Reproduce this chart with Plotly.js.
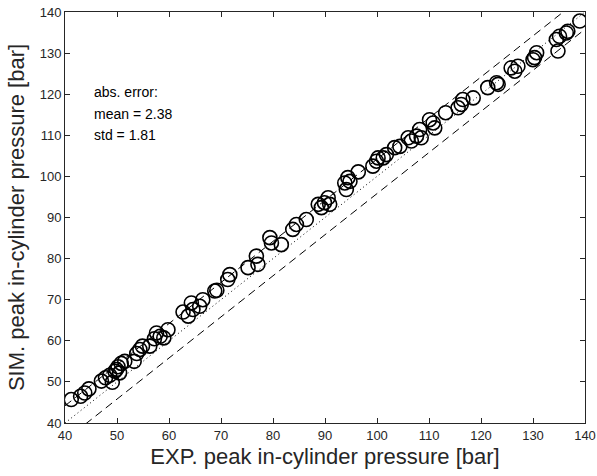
<!DOCTYPE html>
<html>
<head>
<meta charset="utf-8">
<script src="https://cdn.plot.ly/plotly-3.0.1.min.js"></script>
<style>html,body{margin:0;padding:0;background:#fff;}#chart{width:597px;height:476px;}</style>
</head>
<body>
<div id="chart"></div>
<script>
// Experimental peak in-cylinder pressure [bar]
const expP = [41.2, 43.0, 43.8, 44.6, 47.0, 47.8, 48.6, 49.1, 49.6, 49.9, 50.2, 50.5, 50.8, 51.5,
  53.3, 53.8, 54.4, 54.9, 56.3, 57.2, 57.6, 58.3, 59.0, 59.8, 62.7, 63.7, 64.3, 64.6, 65.9, 66.5,
  68.8, 69.2, 71.3, 71.7, 75.2, 76.8, 77.1, 79.4, 79.7, 81.6, 83.8, 84.5, 86.4, 88.7, 89.3, 89.9,
  90.6, 90.9, 93.8, 94.1, 94.4, 94.8, 96.4, 99.2, 99.9, 100.2, 101.2, 101.8, 103.4, 104.4, 106.0,
  106.6, 107.6, 108.2, 108.5, 110.1, 110.8, 111.1, 113.2, 115.6, 116.2, 116.5, 118.5, 121.3, 123.0,
  123.3, 125.8, 126.5, 127.1, 130.0, 130.3, 130.7, 134.5, 134.8, 135.1, 136.4, 136.7, 139.0];
// Simulated peak in-cylinder pressure [bar]
const simP = [45.7, 46.5, 47.3, 48.3, 50.2, 51.0, 51.6, 49.9, 52.6, 53.0, 53.7, 52.2, 54.5, 55.0,
  55.0, 56.9, 57.9, 58.7, 58.7, 60.5, 61.9, 61.1, 60.7, 62.7, 67.0, 66.0, 69.2, 67.6, 68.4, 70.0,
  72.1, 72.3, 74.9, 76.1, 77.8, 80.6, 78.6, 85.1, 83.8, 83.4, 87.1, 88.3, 89.5, 93.2, 92.4, 93.6,
  94.8, 93.2, 98.4, 96.8, 99.7, 98.8, 101.1, 102.5, 103.7, 104.5, 104.5, 105.3, 107.0, 107.3, 109.4,
  108.6, 109.8, 111.4, 109.4, 113.8, 113.0, 111.8, 115.5, 116.7, 117.5, 118.7, 119.1, 121.6, 122.8,
  122.4, 126.4, 125.6, 126.8, 128.4, 128.9, 130.1, 133.3, 130.5, 134.1, 134.9, 135.3, 137.8];

const refX = [40, 140];          // reference line range
const band = 4.19;               // mean + std of abs. error
const tickVals = [40, 50, 60, 70, 80, 90, 100, 110, 120, 130, 140];
const statLines = ['abs. error:', 'mean = 2.38', 'std = 1.81'];

const traces = [
  {x: refX, y: refX, mode: 'lines', line: {color: '#000', width: 1, dash: '1px,3px'}, hoverinfo: 'skip'},
  {x: refX, y: refX.map(v => v + band), mode: 'lines', line: {color: '#000', width: 1, dash: '8px,5px'}, hoverinfo: 'skip'},
  {x: refX, y: refX.map(v => v - band), mode: 'lines', line: {color: '#000', width: 1, dash: '8px,5px'}, hoverinfo: 'skip'},
  {x: expP, y: simP, mode: 'markers', type: 'scatter',
   marker: {symbol: 'circle-open', size: 14, color: '#000', line: {color: '#000', width: 1.6}}}
];

const axisCommon = {
  range: [40, 140], tickmode: 'array', tickvals: tickVals, ticktext: tickVals.map(String),
  ticks: 'inside', ticklen: 5, tickcolor: '#262626', tickwidth: 1,
  showline: true, linecolor: '#262626', linewidth: 1, mirror: 'ticks',
  showgrid: false, zeroline: false,
  tickfont: {family: 'Liberation Sans, Arial, sans-serif', size: 13, color: '#262626'}
};

const layout = {
  width: 597, height: 476,
  margin: {l: 65, r: 12, t: 12, b: 53},
  paper_bgcolor: '#fff', plot_bgcolor: '#fff',
  showlegend: false,
  xaxis: Object.assign({}, axisCommon, {
    title: {text: 'EXP. peak in-cylinder pressure [bar]', standoff: 7,
      font: {family: 'Liberation Sans, Arial, sans-serif', size: 22, color: '#262626'}}
  }),
  yaxis: Object.assign({}, axisCommon, {
    title: {text: 'SIM. peak in-cylinder pressure [bar]', standoff: 8,
      font: {family: 'Liberation Sans, Arial, sans-serif', size: 22, color: '#262626'}}
  }),
  annotations: statLines.map((t, i) => ({
    text: t, xref: 'x', yref: 'y', x: 45.1, y: 120.5 - i * 5.2,
    xanchor: 'left', yanchor: 'middle', showarrow: false, align: 'left',
    font: {family: 'Liberation Sans, Arial, sans-serif', size: 14, color: '#000'}
  }))
};

Plotly.newPlot('chart', traces, layout, {displayModeBar: false, staticPlot: true});
</script>
</body>
</html>
